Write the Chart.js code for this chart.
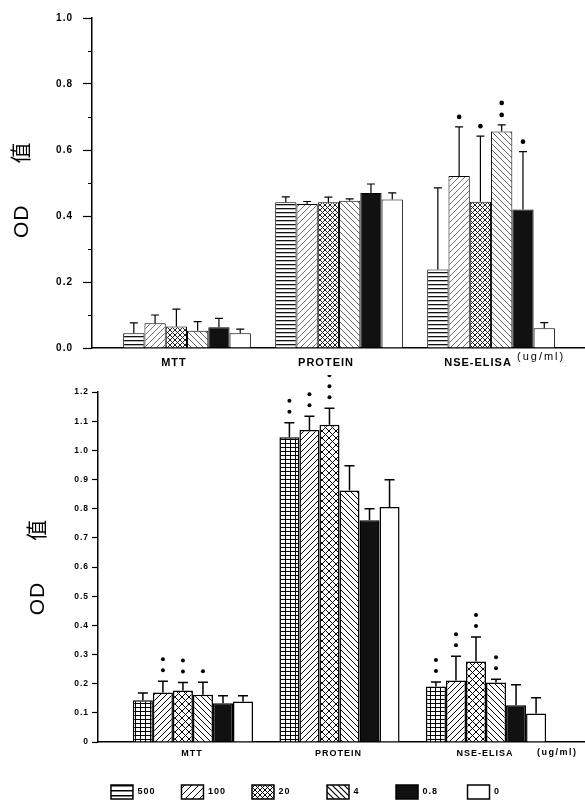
<!DOCTYPE html>
<html><head><meta charset="utf-8">
<script src="https://cdn.jsdelivr.net/npm/chart.js@4.4.1/dist/chart.umd.min.js"></script>
<style>
html,body{margin:0;padding:0;background:#fff;overflow:hidden;width:585px;height:801px;position:relative;}
#c1{position:absolute;left:0;top:0;}
#c2{position:absolute;left:0;top:375px;}
</style></head><body>
<canvas id="c1" width="585" height="375"></canvas>
<canvas id="c2" width="611" height="434"></canvas>
<script>
// ---------- data ----------
const categories = ['MTT', 'PROTEIN', 'NSE-ELISA'];
const doses = ['500', '100', '20', '4', '0.8', '0'];
const legendTexts = ['500', '100', '20   ', '4   ', '0.8 ', '0'];
const unitLabel = '(ug/ml)';
const yTitle = 'OD      值';

const topYLabels = ['0.0', '0.2', '0.4', '0.6', '0.8', '1.0'];
const topValues = [
  [0.045, 0.442, 0.238],
  [0.075, 0.436, 0.521],
  [0.065, 0.442, 0.443],
  [0.052, 0.446, 0.656],
  [0.063, 0.470, 0.420],
  [0.045, 0.450, 0.060]
];
const topErrors = [
  [0.031, 0.016, 0.247],
  [0.025, 0.008, 0.149],
  [0.053, 0.015, 0.199],
  [0.028, 0.006, 0.020],
  [0.027, 0.027, 0.175],
  [0.012, 0.020, 0.017]
];
const topStars = [
  [0, 0, 0],
  [0, 0, 1],
  [0, 0, 1],
  [0, 0, 2],
  [0, 0, 1],
  [0, 0, 0]
];

const bottomYLabels = ['0', '0.1', '0.2', '0.3', '0.4', '0.5', '0.6', '0.7', '0.8', '0.9', '1.0', '1.1', '1.2'];
const bottomValues = [
  [0.143, 1.045, 0.190],
  [0.170, 1.070, 0.211],
  [0.177, 1.088, 0.276],
  [0.162, 0.862, 0.204],
  [0.133, 0.760, 0.126],
  [0.139, 0.806, 0.098]
];
const bottomErrors = [
  [0.025, 0.050, 0.016],
  [0.038, 0.047, 0.083],
  [0.027, 0.056, 0.084],
  [0.043, 0.085, 0.011],
  [0.026, 0.040, 0.070],
  [0.020, 0.093, 0.054]
];
const bottomStars = [
  [0, 2, 2],
  [2, 2, 2],
  [2, 3, 2],
  [1, 0, 2],
  [0, 0, 0],
  [0, 0, 0]
];

// ---------- styling helpers ----------
Chart.defaults.font.family = "'Liberation Sans', Arial, sans-serif";
Chart.defaults.color = '#000';

function makePattern(ctx, kind, o) {
  o = o || {};
  const w = o.w || o.s || 6, h = o.h || o.s || 6;
  const c = document.createElement('canvas');
  c.width = w; c.height = h;
  const g = c.getContext('2d');
  g.fillStyle = '#fff'; g.fillRect(0, 0, w, h);
  const col = o.color || '#000';
  g.strokeStyle = col; g.fillStyle = col; g.lineWidth = o.lw || 1;
  const line = (a, b, cc, d) => { g.beginPath(); g.moveTo(a, b); g.lineTo(cc, d); g.stroke(); };
  if (kind === 'h') g.fillRect(0, 0, w, o.lw || 1);
  if (kind === 'grid') { g.fillRect(0, 0, w, 1); g.fillRect(0, 0, 1, h); }
  if (kind === 'fwd' || kind === 'cross') { line(-1, h + 1, w + 1, -1); line(-1, 1, 1, -1); line(w - 1, h + 1, w + 1, h - 1); }
  if (kind === 'back' || kind === 'cross') { line(-1, -1, w + 1, h + 1); line(w - 1, -1, w + 1, 1); line(-1, h - 1, 1, h + 1); }
  return ctx.createPattern(c, 'repeat');
}

const spacingPlugin = {
  id: 'spacing',
  beforeLayout(chart) { chart.ctx.letterSpacing = '1px'; },
  beforeDraw(chart) { chart.ctx.letterSpacing = '1px'; }
};

const errorBarPlugin = {
  id: 'errbars',
  afterDatasetsDraw(chart, args, opts) {
    const ctx = chart.ctx, ys = chart.scales.y;
    ctx.save();
    ctx.strokeStyle = '#000'; ctx.fillStyle = '#000'; ctx.lineWidth = opts.lineWidth;
    chart.data.datasets.forEach((ds, i) => {
      const meta = chart.getDatasetMeta(i);
      meta.data.forEach((bar, j) => {
        const v = ds.data[j].y, e = ds.errors[j];
        const yTop = ys.getPixelForValue(v), yCap = ys.getPixelForValue(v + e);
        ctx.beginPath();
        ctx.moveTo(bar.x, yTop); ctx.lineTo(bar.x, yCap);
        ctx.moveTo(bar.x - opts.cap, yCap); ctx.lineTo(bar.x + opts.cap, yCap);
        ctx.stroke();
        for (let k = 0; k < ds.stars[j]; k++) {
          ctx.beginPath();
          ctx.arc(bar.x, yCap - opts.first - k * opts.gap, opts.r, 0, Math.PI * 2);
          ctx.fill();
        }
      });
    });
    ctx.restore();
  }
};

const extrasPlugin = {
  id: 'extras',
  afterDraw(chart, args, opts) {
    const ctx = chart.ctx, ys = chart.scales.y, left = chart.chartArea.left;
    ctx.save();
    ctx.strokeStyle = '#000'; ctx.lineWidth = 1;
    (opts.minor || []).forEach(v => {
      const y = Math.round(ys.getPixelForValue(v)) + 0.5;
      ctx.beginPath(); ctx.moveTo(left - opts.minorLen, y); ctx.lineTo(left, y); ctx.stroke();
    });
    ctx.letterSpacing = opts.unitSpacing;
    ctx.fillStyle = '#000';
    ctx.font = opts.unitFont;
    ctx.textAlign = 'left'; ctx.textBaseline = 'middle';
    ctx.fillText(unitLabel, opts.unitX, opts.unitY);
    ctx.restore();
  }
};

function buildDatasets(values, errors, stars, fills, bw, catPct) {
  return doses.map((d, i) => ({
    label: d,
    data: values[i].map((v, j) => ({ x: j, y: v })),
    errors: errors[i],
    stars: stars[i],
    backgroundColor: fills[i],
    borderColor: '#000',
    borderWidth: bw,
    borderSkipped: 'start',
    categoryPercentage: catPct,
    barPercentage: 1
  }));
}

function xScale(min, max, fontSize, pad, labelOffset, height) {
  return {
    type: 'linear', min, max, offset: false, bounds: 'data',
    afterBuildTicks: s => { s.ticks = categories.map((c, j) => ({ value: j })); },
    afterFit: s => { s.height = height; },
    grid: { display: false, drawTicks: false, offset: false },
    border: { display: true, color: '#000', width: 1.5 },
    ticks: {
      autoSkip: false, maxRotation: 0, padding: pad, labelOffset,
      font: { size: fontSize, weight: 'bold' },
      callback: v => categories[v]
    }
  };
}

function yScale(max, step, labels, fontSize, tickLen, pad, width, titlePad, titleText) {
  return {
    type: 'linear', min: 0, max,
    afterFit: s => { s.width = width; },
    grid: { display: true, drawOnChartArea: false, drawTicks: true, tickLength: tickLen, tickColor: '#000', tickWidth: 1.2 },
    border: { display: true, color: '#000', width: 1.5 },
    ticks: { stepSize: step, padding: pad, font: { size: fontSize, weight: 'bold' }, callback: (v, i) => labels[i] },
    title: {
      display: true, text: titleText, color: '#000',
      font: { size: 21, family: "'Liberation Sans', 'Noto Sans CJK SC', sans-serif" },
      padding: { top: titlePad, bottom: 0 }
    }
  };
}

// ---------- top chart ----------
const c1 = document.getElementById('c1');
const g1 = c1.getContext('2d');
const topFills = [
  makePattern(g1, 'h', { w: 8, h: 4, lw: 1.3, color: '#111' }),
  makePattern(g1, 'fwd', { s: 6, lw: 0.9, color: '#666' }),
  makePattern(g1, 'cross', { s: 5, lw: 1, color: '#222' }),
  makePattern(g1, 'back', { s: 6, lw: 0.9, color: '#555' }),
  '#111',
  '#fff'
];
new Chart(c1, {
  type: 'bar',
  data: { datasets: buildDatasets(topValues, topErrors, topStars, topFills, 1, 0.84) },
  options: {
    responsive: false, animation: false, devicePixelRatio: 1,
    layout: { padding: { top: 18, left: 0, right: 0, bottom: 0 } },
    plugins: {
      legend: { display: false }, tooltip: { enabled: false },
      errbars: { lineWidth: 1.2, cap: 4, first: 10, gap: 12, r: 2.3 },
      extras: { minor: [0.1, 0.3, 0.5, 0.7, 0.9], minorLen: 4, unitFont: "11px 'Liberation Sans', Arial, sans-serif", unitSpacing: '2px', unitX: 517, unitY: 357 }
    },
    scales: {
      x: xScale(-0.625, 2.618, 11, 8, -13, 27),
      y: yScale(1.0, 0.2, topYLabels, 10, 9, 10, 92, 10, yTitle + '  ')
    }
  },
  plugins: [spacingPlugin, errorBarPlugin, extrasPlugin]
});

// ---------- bottom chart ----------
const c2 = document.getElementById('c2');
const g2 = c2.getContext('2d');
const bottomFills = [
  makePattern(g2, 'grid', { w: 5, h: 4 }),
  makePattern(g2, 'fwd', { s: 6, lw: 1 }),
  makePattern(g2, 'cross', { s: 7, lw: 1 }),
  makePattern(g2, 'back', { s: 6, lw: 1 }),
  '#111',
  '#fff'
];
const legendFills = [
  makePattern(g2, 'h', { w: 8, h: 5, lw: 1.5 }),
  makePattern(g2, 'fwd', { s: 7, lw: 1 }),
  makePattern(g2, 'cross', { s: 5, lw: 1 }),
  makePattern(g2, 'back', { s: 6, lw: 1.2 }),
  '#111',
  '#fff'
];
new Chart(c2, {
  type: 'bar',
  data: { datasets: buildDatasets(bottomValues, bottomErrors, bottomStars, bottomFills, 1.5, 0.82) },
  options: {
    responsive: false, animation: false, devicePixelRatio: 1,
    layout: { padding: { top: 17, left: 0, right: 0, bottom: 0 } },
    plugins: {
      tooltip: { enabled: false },
      legend: {
        display: true, position: 'bottom',
        labels: {
          boxWidth: 22, boxHeight: 14, padding: 26, color: '#000',
          font: { size: 9, weight: 'bold' },
          generateLabels: chart => chart.data.datasets.map((ds, i) => ({
            text: legendTexts[i], fillStyle: legendFills[i], strokeStyle: '#000', lineWidth: 1.5,
            hidden: false, datasetIndex: i, fontColor: '#000'
          }))
        }
      },
      errbars: { lineWidth: 1.5, cap: 5, first: 11, gap: 11, r: 2 },
      extras: { minor: [], minorLen: 0, unitFont: "bold 9px 'Liberation Sans', Arial, sans-serif", unitSpacing: '1.5px', unitX: 537, unitY: 378 }
    },
    scales: {
      x: xScale(-0.648, 2.853, 9, 6, -1, 17),
      y: yScale(1.2, 0.1, bottomYLabels, 8.5, 6, 3, 98, 26, yTitle)
    }
  },
  plugins: [spacingPlugin, errorBarPlugin, extrasPlugin]
});
</script>
</body></html>
